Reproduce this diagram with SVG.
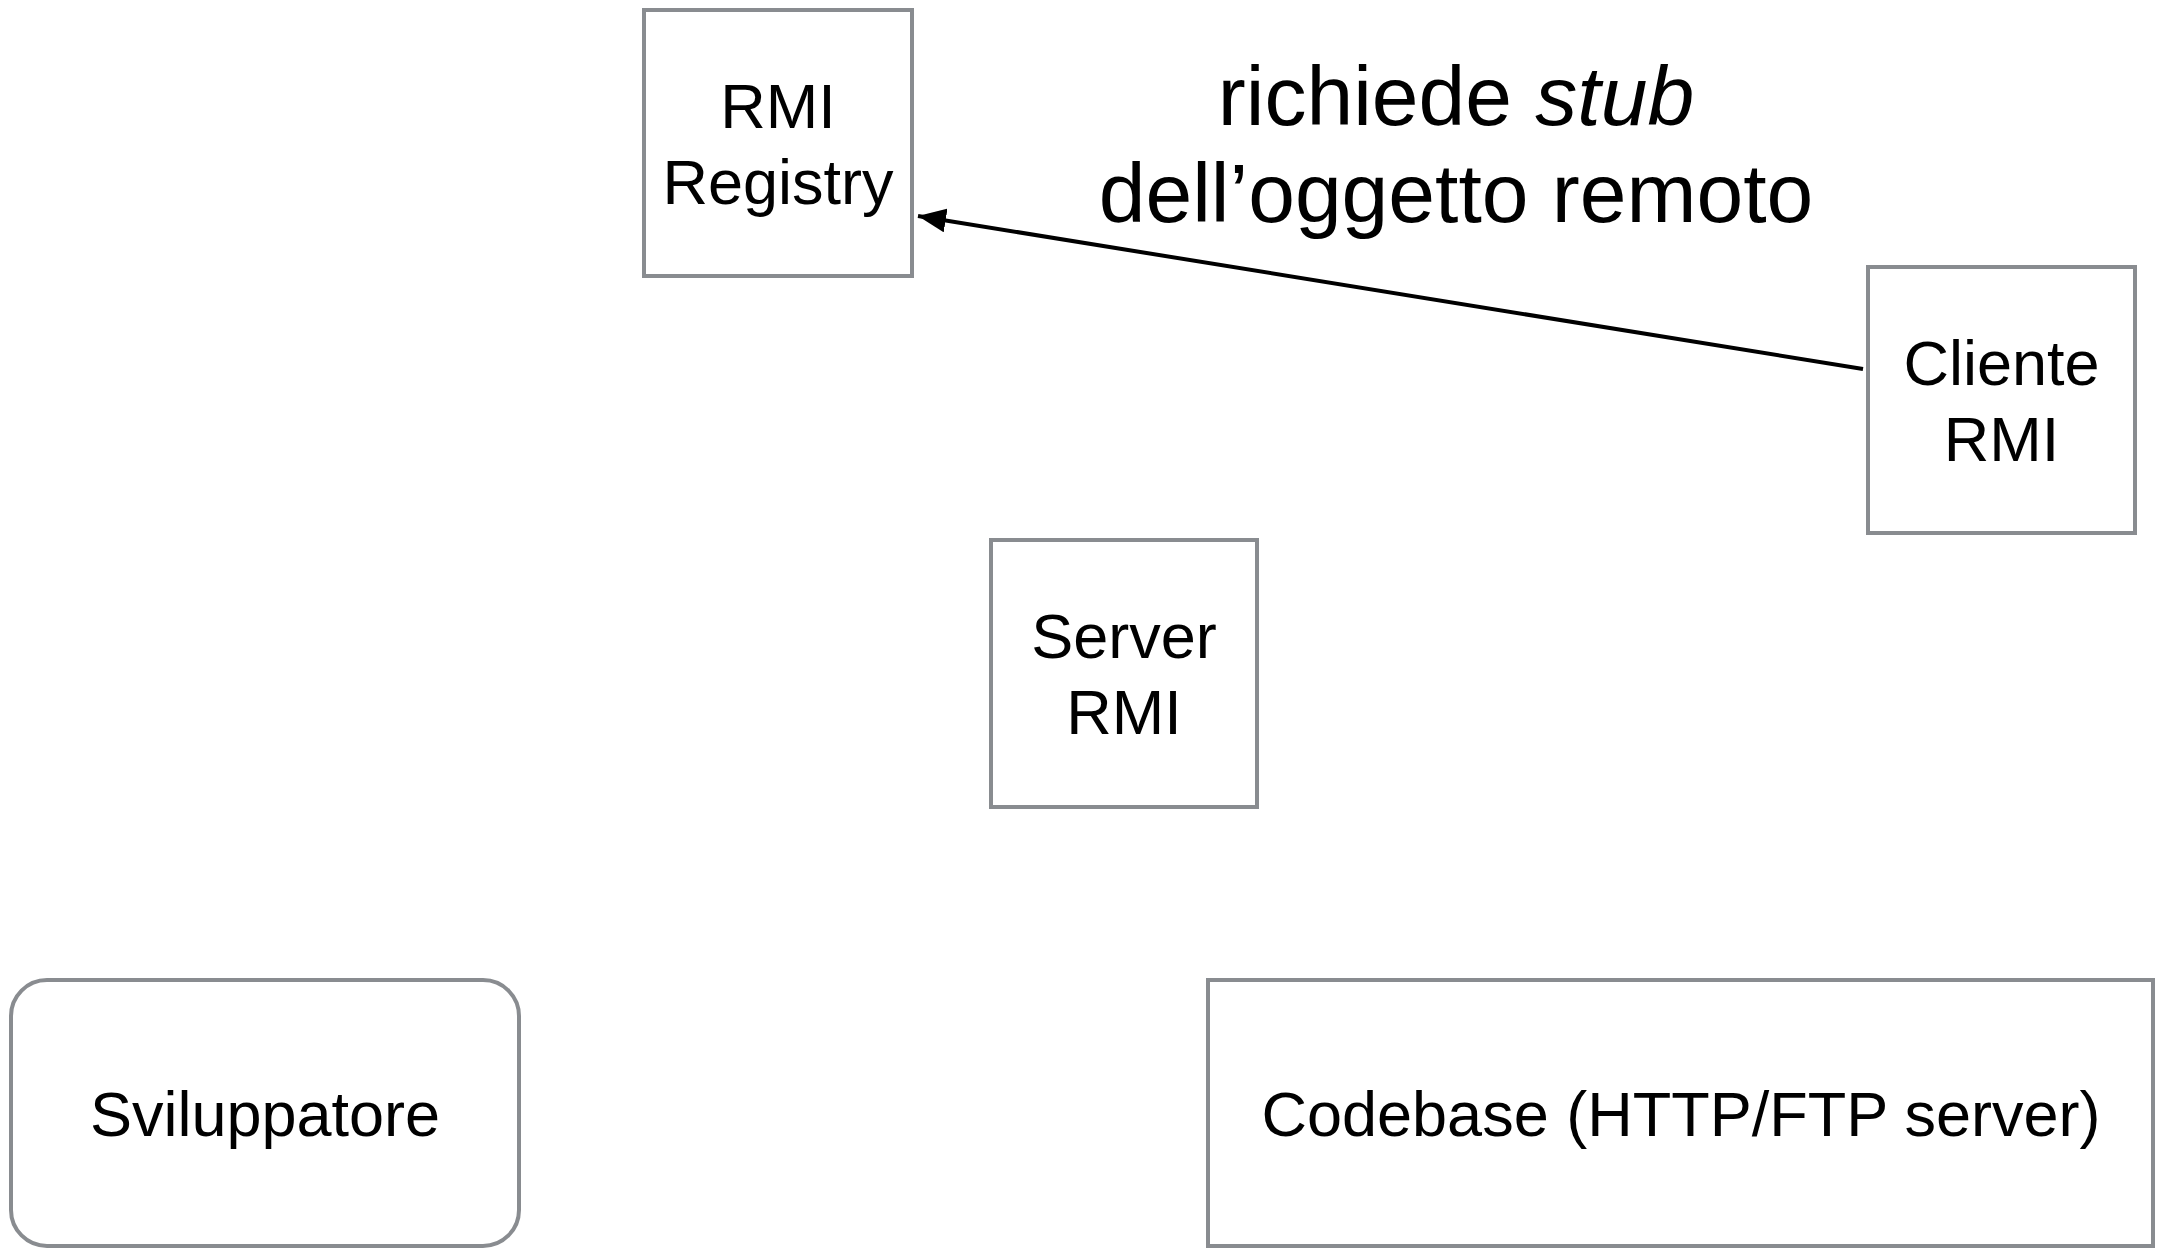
<svg xmlns="http://www.w3.org/2000/svg" width="2160" height="1249" viewBox="0 0 2160 1249">
<style>
.box{fill:#ffffff;stroke:#898c90;stroke-width:4}
.t{font-family:"Liberation Sans",Arial,sans-serif;font-size:63px;fill:#000000;text-anchor:middle}
.lbl{font-family:"Liberation Sans",Arial,sans-serif;font-size:84px;fill:#000000;text-anchor:middle}
.conn{stroke:#000000;stroke-width:4;fill:none}
</style>
<defs>
<marker id="arrow" markerWidth="8" markerHeight="6" refX="7" refY="3" orient="auto" markerUnits="strokeWidth">
<path d="M0,0 L7,3 L0,6 Z" fill="#000000"/>
</marker>
</defs>
<rect width="2160" height="1249" fill="#ffffff"/>
<g id="registry">
<rect class="box" x="644" y="10" width="268" height="266"/>
<text class="t" x="778" y="128">RMI</text>
<text class="t" x="778" y="204">Registry</text>
</g>
<g id="cliente">
<rect class="box" x="1868" y="267" width="267" height="266"/>
<text class="t" x="2001.5" y="385">Cliente</text>
<text class="t" x="2001.5" y="461">RMI</text>
</g>
<g id="server">
<rect class="box" x="991" y="540" width="266" height="267"/>
<text class="t" x="1124" y="658">Server</text>
<text class="t" x="1124" y="734">RMI</text>
</g>
<g id="sviluppatore">
<rect class="box" x="11" y="980" width="508" height="266" rx="36" ry="36"/>
<text class="t" x="265" y="1136">Sviluppatore</text>
</g>
<g id="codebase">
<rect class="box" x="1208" y="980" width="945" height="266"/>
<text class="t" x="1681" y="1136">Codebase (HTTP/FTP server)</text>
</g>
<g id="connectors">
<line class="conn" x1="1863" y1="369" x2="918" y2="216" marker-end="url(#arrow)"/>
<text class="lbl" x="1456" y="125">richiede <tspan font-style="italic">stub</tspan></text>
<text class="lbl" x="1456" y="222">dell’oggetto remoto</text>
</g>
</svg>
